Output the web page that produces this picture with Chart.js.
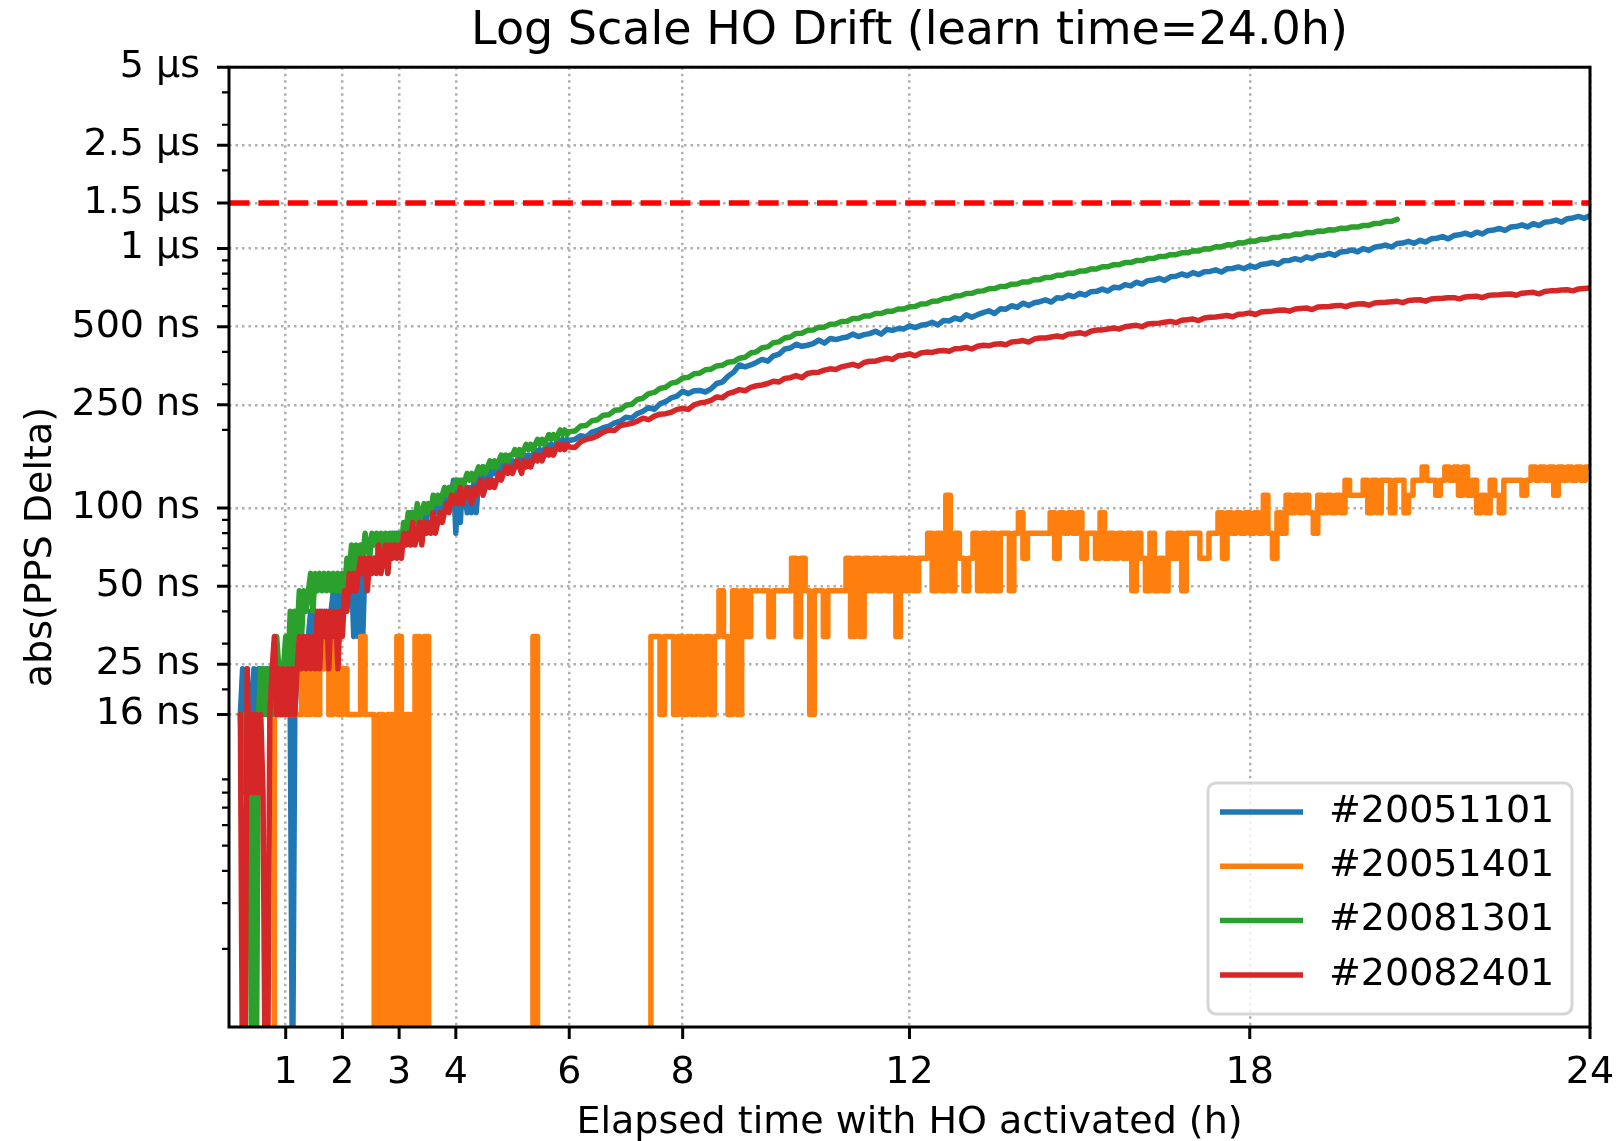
<!DOCTYPE html>
<html>
<head>
<meta charset="utf-8">
<title>Log Scale HO Drift</title>
<script src="https://cdn.jsdelivr.net/npm/chart.js@4.4.0/dist/chart.umd.min.js"></script>
<style>
  html, body { margin: 0; padding: 0; background: #fff; }
  #wrap { width: 1622px; height: 1141px; }
</style>
</head>
<body>
<div id="wrap"><canvas id="chart" width="1622" height="1141"></canvas></div>
<script>
// legend order = plot order of the original script
const seriesNames = ['#20051101', '#20051401', '#20081301', '#20082401'];
const seriesColors = ['#1f77b4', '#ff7f0e', '#2ca02c', '#d62728'];

// samples that dropped to zero: below the 1 ns floor, so they fall off the axis
const B = 0.5;

// start-up part, one sample every 0.04 h starting at 0.2 h (values in ns)
const EARLY_START = 0.2, EARLY_STEP = 0.04;
// settled part, one sample every 0.1 h starting at 6 h (values in ns)
const TAIL_START = 6.0, TAIL_STEP = 0.1;
// orange unit is quantised to 16 ns, drawn stepped, one sample every 0.08 h from 0 h
const ORANGE_START = 0, ORANGE_STEP = 0.08;

const blueEarly = [
  16, 24, 16, 24, 16, 16, 24, 16, 24, 16,
  24, 16, 24, 16, 24, 16, 24, 16, 24, 16,
  24, 16, 16, B, 16, 24, 32, 24, 32, 24,
  32, 40, 32, 40, 32, 40, 32, 40, 32, 40,
  40, 48, 40, 48, 40, 48, 40, 56, 48, 56,
  32, 64, 32, 56, 32, 64, 56, 64, 56, 64,
  56, 72, 64, 72, 64, 72, 64, 80, 72, 80,
  72, 80, 72, 88, 80, 96, 88, 96, 88, 96,
  88, 96, 88, 104, 96, 104, 96, 104, 96, 112,
  104, 112, 104, 112, 128, 80, 128, 88, 128, 120,
  96, 120, 96, 128, 96, 128, 136, 144, 120, 144,
  128, 144, 136, 144, 136, 144, 152, 144, 152, 144,
  152, 144, 152, 160, 152, 160, 152, 160, 152, 160,
  168, 160, 168, 160, 168, 176, 168, 176, 168, 176,
  184, 176, 184, 176, 184
];
const blueTail = [
  182, 184, 190, 188, 196, 199, 204, 207, 213, 216,
  224, 222, 231, 236, 244, 240, 252, 257, 266, 270,
  282, 276, 283, 284, 280, 288, 302, 306, 322, 334,
  356, 350, 356, 364, 374, 368, 386, 392, 410, 414,
  428, 420, 424, 430, 444, 432, 450, 446, 452, 456,
  468, 458, 466, 470, 480, 468, 488, 484, 492, 490,
  504, 496, 506, 510, 520, 508, 528, 526, 540, 532,
  556, 544, 556, 566, 576, 562, 586, 584, 602, 594,
  616, 604, 618, 624, 634, 622, 646, 644, 662, 652,
  672, 662, 682, 684, 698, 686, 710, 706, 726, 718,
  742, 730, 752, 756, 768, 754, 778, 782, 798, 786,
  808, 794, 814, 816, 828, 812, 836, 838, 850, 836,
  858, 846, 868, 874, 884, 870, 898, 900, 914, 902,
  928, 914, 940, 942, 958, 942, 970, 974, 988, 972,
  1000, 984, 1012, 1020, 1032, 1014, 1046, 1050, 1066, 1048,
  1076, 1060, 1090, 1096, 1112, 1090, 1122, 1130, 1146, 1126,
  1156, 1138, 1172, 1178, 1196, 1174, 1210, 1216, 1234, 1212,
  1248, 1226, 1264, 1270, 1288, 1264, 1304, 1312, 1330, 1308,
  1340
];

const orangeValues = [
  B, B, B, B, B, B, B, B, B, B,
  16, 16, 16, 16, 16, 16, 24, 16, 24, 16,
  24, 32, 16, 32, 16, 24, 16, 16, 16, 32,
  16, 16, B, 16, B, 16, B, 32, B, 16,
  B, 32, B, 32, B, B, B, B, B, B,
  B, B, B, B, B, B, B, B, B, B,
  B, B, B, B, B, B, B, 32, B, B,
  B, B, B, B, B, B, B, B, B, B,
  B, B, B, B, B, B, B, B, B, B,
  B, B, B, 32, 32, 16, 32, 32, 16, 32,
  16, 32, 16, 32, 16, 32, 16, 32, 48, 32,
  16, 48, 16, 48, 32, 48, 48, 48, 48, 32,
  48, 48, 48, 48, 64, 32, 64, 48, 16, 48,
  48, 32, 48, 48, 48, 48, 64, 32, 64, 32,
  64, 48, 64, 48, 64, 48, 64, 32, 64, 48,
  64, 48, 64, 64, 80, 48, 80, 48, 112, 48,
  80, 64, 48, 64, 80, 48, 80, 48, 80, 48,
  80, 80, 48, 80, 96, 64, 80, 80, 80, 80,
  80, 96, 64, 96, 80, 96, 80, 96, 64, 80,
  80, 64, 96, 64, 80, 64, 80, 64, 80, 48,
  80, 64, 48, 80, 48, 64, 48, 80, 64, 80,
  48, 80, 80, 80, 64, 64, 80, 80, 96, 64,
  96, 80, 96, 80, 96, 80, 96, 80, 112, 80,
  64, 96, 80, 112, 96, 112, 96, 112, 96, 80,
  112, 96, 112, 96, 112, 96, 128, 112, 112, 112,
  128, 96, 128, 96, 128, 128, 96, 128, 128, 96,
  112, 128, 128, 144, 128, 128, 112, 128, 144, 128,
  144, 112, 144, 112, 128, 96, 112, 96, 128, 112,
  96, 128, 128, 128, 128, 112, 128, 144, 128, 144,
  128, 144, 112, 144, 128, 144, 128, 144, 128, 144,
  144
];

const greenEarly = [
  16, 8, 16, 8, 16, B, 8, B, 16, 24,
  16, 24, 16, 24, 16, 24, 32, 24, 16, 24,
  32, 24, 40, 24, 40, 32, 48, 32, 48, 40,
  48, 56, 40, 56, 48, 56, 48, 56, 48, 56,
  48, 56, 48, 56, 48, 56, 48, 64, 56, 72,
  56, 72, 64, 72, 64, 80, 72, 64, 80, 72,
  80, 64, 80, 72, 80, 56, 80, 72, 80, 72,
  80, 72, 88, 80, 96, 88, 96, 88, 104, 88,
  96, 104, 96, 104, 96, 112, 104, 112, 104, 112,
  120, 112, 120, 112, 120, 128, 120, 128, 120, 128,
  136, 128, 136, 128, 136, 144, 136, 144, 136, 144,
  152, 144, 152, 144, 152, 160, 152, 160, 152, 160,
  160, 168, 160, 168, 160, 168, 176, 168, 176, 168,
  176, 184, 176, 184, 176, 184, 192, 184, 192, 184,
  192, 200, 192, 200, 192
];
const greenTail = [
  197, 198, 207, 208, 217, 219, 228, 229, 238, 239,
  249, 251, 262, 265, 276, 279, 289, 292, 303, 306,
  317, 319, 329, 331, 341, 343, 353, 355, 365, 367,
  378, 381, 396, 400, 415, 418, 434, 437, 452, 456,
  471, 472, 484, 485, 498, 498, 511, 512, 524, 525,
  538, 538, 550, 550, 562, 562, 573, 573, 585, 585,
  597, 598, 612, 613, 627, 628, 641, 643, 656, 658,
  671, 672, 685, 687, 700, 701, 714, 715, 729, 730,
  744, 744, 759, 759, 774, 774, 789, 789, 804, 804,
  819, 819, 835, 835, 851, 851, 867, 867, 883, 883,
  899, 899, 915, 915, 931, 931, 947, 947, 963, 963,
  980, 979, 998, 997, 1016, 1015, 1034, 1033, 1052, 1051,
  1070, 1068, 1087, 1085, 1103, 1102, 1120, 1118, 1137, 1135,
  1153, 1150, 1168, 1165, 1183, 1180, 1197, 1195, 1212, 1210,
  1227, 1228, 1250, 1251, 1272, 1274, 1295
];

const redEarly = [
  16, B, B, 24, 8, 16, 8, 16, 8, 16,
  8, B, B, 16, 24, 32, 16, 24, 16, 24,
  16, 24, 16, 24, 16, 24, 32, 24, 32, 24,
  32, 24, 32, 24, 40, 24, 40, 32, 40, 24,
  40, 32, 40, 24, 40, 32, 48, 40, 56, 48,
  56, 48, 56, 64, 56, 64, 48, 64, 56, 64,
  56, 72, 56, 64, 72, 56, 72, 64, 72, 64,
  72, 64, 80, 72, 80, 72, 88, 72, 80, 88,
  72, 88, 80, 88, 80, 96, 80, 88, 96, 88,
  96, 104, 96, 112, 104, 112, 104, 120, 104, 112,
  120, 112, 104, 120, 112, 120, 128, 112, 120, 128,
  120, 128, 120, 128, 136, 128, 136, 144, 136, 144,
  136, 144, 152, 144, 136, 152, 144, 152, 144, 152,
  160, 152, 160, 152, 160, 168, 160, 168, 160, 168,
  176, 168, 176, 168, 176
];
const redTail = [
  172, 171, 180, 184, 186, 190, 196, 200, 199, 208,
  210, 212, 216, 222, 219, 226, 230, 231, 234, 240,
  242, 240, 250, 254, 256, 260, 268, 266, 276, 280,
  286, 283, 292, 296, 298, 302, 308, 306, 316, 318,
  324, 318, 330, 333, 334, 340, 344, 342, 350, 354,
  358, 352, 364, 368, 368, 374, 378, 374, 386, 388,
  393, 386, 396, 399, 398, 403, 405, 402, 411, 412,
  416, 410, 420, 424, 422, 428, 430, 426, 436, 438,
  442, 436, 448, 452, 452, 456, 460, 456, 468, 470,
  474, 468, 480, 485, 486, 490, 494, 490, 500, 503,
  506, 500, 512, 514, 516, 520, 524, 518, 529, 532,
  535, 528, 540, 544, 545, 549, 552, 546, 558, 560,
  565, 557, 570, 572, 574, 578, 580, 574, 585, 588,
  590, 582, 595, 597, 598, 602, 604, 597, 608, 611,
  613, 605, 617, 620, 621, 624, 626, 619, 631, 634,
  635, 627, 639, 642, 643, 646, 647, 640, 651, 654,
  655, 647, 659, 663, 664, 667, 668, 661, 673, 676,
  678, 669, 683, 687, 688, 692, 694, 687, 699, 702,
  704
];

const limitNs = 1500;
const limitSpan = [0, 24];

const xTicks = [1, 2, 3, 4, 6, 8, 12, 18, 24];
const yMajorTicks = [16, 25, 50, 100, 250, 500, 1000, 1500, 2500, 5000];
const yTickLabels = ['16 ns', '25 ns', '50 ns', '100 ns', '250 ns', '500 ns', '1 µs', '1.5 µs', '2.5 µs', '5 µs'];
const yMinorTicks = [2, 3, 4, 5, 6, 7, 8, 9, 20, 30, 40, 60, 70, 80, 90,
  200, 300, 400, 600, 700, 800, 900, 2000, 3000, 4000];

function series(start, step, values) {
  return values.map((v, i) => ({ x: start + i * step, y: v }));
}

const blueData = series(EARLY_START, EARLY_STEP, blueEarly).concat(series(TAIL_START, TAIL_STEP, blueTail));
const orangeData = series(ORANGE_START, ORANGE_STEP, orangeValues);
const greenData = series(EARLY_START, EARLY_STEP, greenEarly).concat(series(TAIL_START, TAIL_STEP, greenTail));
const redData = series(EARLY_START, EARLY_STEP, redEarly).concat(series(TAIL_START, TAIL_STEP, redTail));

Chart.defaults.font.family = 'DejaVu Sans';
Chart.defaults.color = '#000';

// matplotlib-like spines and outward tick marks
const frameTicks = {
  id: 'frameTicks',
  afterDraw(chart) {
    const { ctx, chartArea: a } = chart;
    const x = chart.scales.x, y = chart.scales.y;
    ctx.save();
    ctx.strokeStyle = '#000';
    ctx.lineWidth = 3;
    ctx.beginPath();
    xTicks.forEach(v => {
      const px = x.getPixelForValue(v);
      ctx.moveTo(px, a.bottom);
      ctx.lineTo(px, a.bottom + 12);
    });
    yMajorTicks.forEach(v => {
      const py = y.getPixelForValue(v);
      ctx.moveTo(a.left, py);
      ctx.lineTo(a.left - 12, py);
    });
    ctx.stroke();
    ctx.lineWidth = 2.2;
    ctx.beginPath();
    yMinorTicks.forEach(v => {
      const py = y.getPixelForValue(v);
      ctx.moveTo(a.left, py);
      ctx.lineTo(a.left - 7, py);
    });
    ctx.stroke();
    ctx.lineWidth = 3;
    ctx.strokeRect(a.left, a.top, a.right - a.left, a.bottom - a.top);
    ctx.restore();
  }
};

// legend box in the lower right corner of the plot
const cornerLegend = {
  id: 'cornerLegend',
  afterDatasetsDraw(chart) {
    const { ctx, chartArea: a } = chart;
    const w = 364, h = 231, r = 8;
    const x0 = a.right - 18 - w, y0 = a.bottom - 13 - h;
    ctx.save();
    ctx.beginPath();
    ctx.moveTo(x0 + r, y0);
    ctx.arcTo(x0 + w, y0, x0 + w, y0 + h, r);
    ctx.arcTo(x0 + w, y0 + h, x0, y0 + h, r);
    ctx.arcTo(x0, y0 + h, x0, y0, r);
    ctx.arcTo(x0, y0, x0 + w, y0, r);
    ctx.closePath();
    ctx.fillStyle = 'rgba(255,255,255,0.8)';
    ctx.fill();
    ctx.lineWidth = 3;
    ctx.strokeStyle = 'rgba(204,204,204,0.8)';
    ctx.stroke();
    ctx.font = '38px "DejaVu Sans"';
    ctx.textBaseline = 'middle';
    ctx.fillStyle = '#000';
    seriesNames.forEach((name, k) => {
      const yy = y0 + 29 + k * 54.3;
      ctx.strokeStyle = seriesColors[k];
      ctx.lineWidth = 5.5;
      ctx.beginPath();
      ctx.moveTo(x0 + 12, yy);
      ctx.lineTo(x0 + 95, yy);
      ctx.stroke();
      ctx.fillText(name, x0 + 121, yy);
    });
    ctx.restore();
  }
};

const lineStyle = { borderWidth: 5.5, pointRadius: 0, borderJoinStyle: 'round', borderCapStyle: 'round', clip: 0 };

new Chart(document.getElementById('chart'), {
  type: 'line',
  data: {
    datasets: [
      Object.assign({ label: seriesNames[0], data: blueData, borderColor: seriesColors[0], order: 4 }, lineStyle),
      Object.assign({ label: seriesNames[1], data: orangeData, borderColor: seriesColors[1], order: 3, stepped: true }, lineStyle),
      Object.assign({ label: seriesNames[2], data: greenData, borderColor: seriesColors[2], order: 2 }, lineStyle),
      Object.assign({ label: seriesNames[3], data: redData, borderColor: seriesColors[3], order: 1 }, lineStyle),
      {
        label: 'limit', data: limitSpan.map(h => ({ x: h, y: limitNs })),
        borderColor: '#ff0000', borderWidth: 5.5, borderDash: [20.5, 8.9], pointRadius: 0, order: 0, clip: 0
      }
    ]
  },
  options: {
    responsive: false,
    animation: false,
    devicePixelRatio: 1,
    parsing: false,
    normalized: true,
    layout: { padding: { left: 0, right: 32, top: 0, bottom: 0 } },
    plugins: {
      legend: { display: false },
      tooltip: { enabled: false },
      title: {
        display: true,
        text: 'Log Scale HO Drift (learn time=24.0h)',
        fullSize: false,
        color: '#000',
        font: { size: 46, weight: 'normal' },
        padding: { top: 4, bottom: 8 }
      }
    },
    scales: {
      x: {
        type: 'linear',
        min: 0,
        max: 24,
        afterBuildTicks(s) { s.ticks = xTicks.map(v => ({ value: v })); },
        afterFit(s) { s.height = 114; s.paddingLeft = 0; s.paddingRight = 0; },
        ticks: { autoSkip: false, maxRotation: 0, padding: 23, font: { size: 38 }, color: '#000', callback: v => String(v) },
        grid: { drawTicks: false, lineWidth: 2.5, color: '#b0b0b0' },
        border: { display: false, dash: [2.5, 4] },
        title: { display: true, text: 'Elapsed time with HO activated (h)', color: '#000', font: { size: 38 }, padding: { top: 0, bottom: -5 } }
      },
      y: {
        type: 'logarithmic',
        min: 1,
        max: 5000,
        afterBuildTicks(s) {
          s.ticks = yMajorTicks.concat(yMinorTicks).sort((p, q) => p - q).map(v => ({ value: v }));
        },
        afterFit(s) { s.width = 229; },
        ticks: {
          autoSkip: false, padding: 29, font: { size: 38 }, color: '#000',
          callback: v => { const k = yMajorTicks.indexOf(v); return k < 0 ? '' : yTickLabels[k]; }
        },
        grid: {
          drawTicks: false, lineWidth: 2.5,
          color: c => (c.tick && yMajorTicks.includes(c.tick.value)) ? '#b0b0b0' : 'rgba(0,0,0,0)'
        },
        border: { display: false, dash: [2.5, 4] },
        title: { display: true, text: 'abs(PPS Delta)', color: '#000', font: { size: 38 }, padding: { top: 18, bottom: 0 } }
      }
    }
  },
  plugins: [cornerLegend, frameTicks]
});
</script>
</body>
</html>
